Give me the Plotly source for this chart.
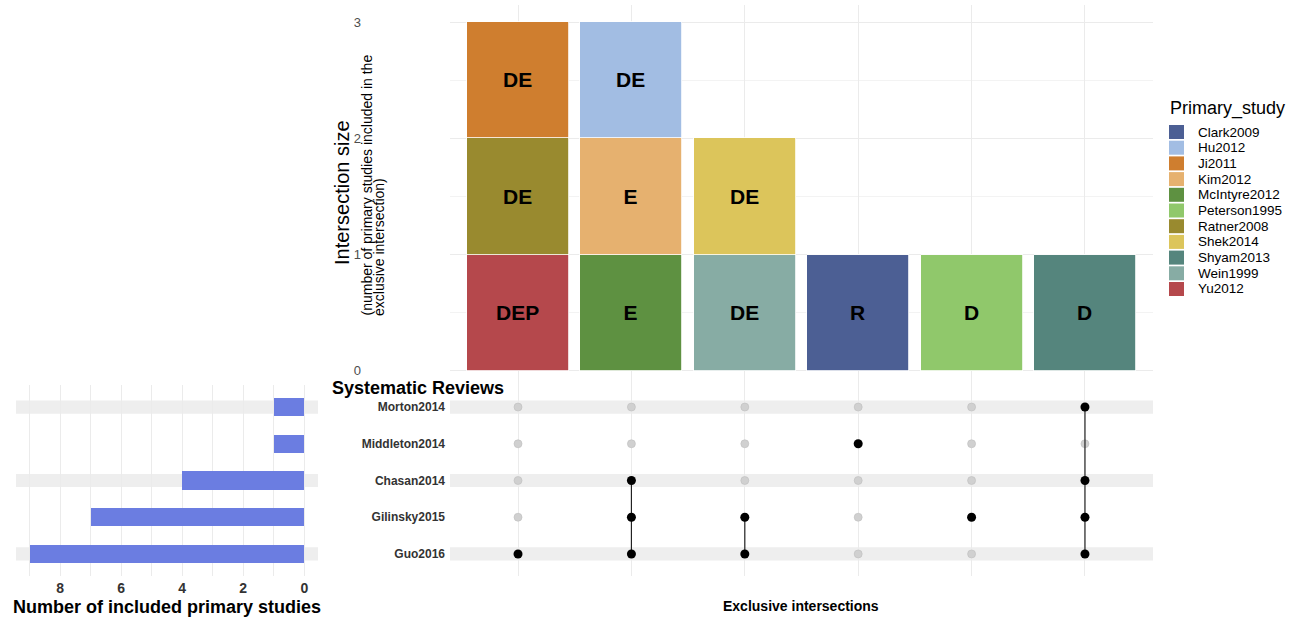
import plotly.graph_objects as go

W, H = 1297, 618
FONT = "Liberation Sans, Arial, sans-serif"

def fx(p):
    return p / W

def fy(p):
    return 1 - p / H

# ---------------- data ----------------
reviews = ["Guo2016", "Gilinsky2015", "Chasan2014", "Middleton2014", "Morton2014"]  # bottom -> top
review_totals = [9, 7, 4, 1, 1]

intersections = [
    "Guo2016",
    "Chasan2014&Gilinsky2015&Guo2016",
    "Gilinsky2015&Guo2016",
    "Middleton2014",
    "Gilinsky2015",
    "Chasan2014&Gilinsky2015&Guo2016&Morton2014",
]
intersection_members = [
    ["Guo2016"],
    ["Guo2016", "Gilinsky2015", "Chasan2014"],
    ["Guo2016", "Gilinsky2015"],
    ["Middleton2014"],
    ["Gilinsky2015"],
    ["Guo2016", "Gilinsky2015", "Chasan2014", "Morton2014"],
]

studies = ["Clark2009", "Hu2012", "Ji2011", "Kim2012", "McIntyre2012", "Peterson1995",
           "Ratner2008", "Shek2014", "Shyam2013", "Wein1999", "Yu2012"]
study_colors = ["#4c5f94", "#a2bde3", "#cf7e2f", "#e6b16f", "#5e9141", "#90c86b",
                "#998a2f", "#dcc55b", "#55857d", "#87aca4", "#b5484c"]
study_intersection = [intersections[3], intersections[1], intersections[0], intersections[1],
                      intersections[1], intersections[4], intersections[0], intersections[2],
                      intersections[5], intersections[2], intersections[0]]
study_outcome = ["R", "DE", "DE", "E", "E", "D", "DE", "DE", "D", "DE", "DEP"]
study_count = [1] * len(studies)
# stacking order (bottom first)
stack_order = ["Yu2012", "Ratner2008", "Ji2011", "McIntyre2012", "Kim2012", "Hu2012",
               "Wein1999", "Shek2014", "Clark2009", "Peterson1995", "Shyam2013"]

fig = go.Figure()

# ---------------- top stacked bars ----------------
for s in stack_order:
    i = studies.index(s)
    fig.add_trace(go.Bar(
        x=[study_intersection[i]], y=[study_count[i]], name=s,
        marker=dict(color=study_colors[i], line=dict(color="white", width=0.8)),
        width=0.9, text=[study_outcome[i]], textposition="inside",
        insidetextanchor="middle", textangle=0,
        textfont=dict(family=FONT, size=21, color="black", weight=700),
        showlegend=False, xaxis="x", yaxis="y", hoverinfo="name"))

# ---------------- matrix ----------------
gx, gy, bx, by = [], [], [], []
for inter, mem in zip(intersections, intersection_members):
    for r in reviews:
        if r in mem:
            bx.append(inter); by.append(r)
        else:
            gx.append(inter); gy.append(r)

fig.add_trace(go.Scatter(x=gx, y=gy, mode="markers", xaxis="x2", yaxis="y2",
                         marker=dict(size=8, color="#d0d0d0", line=dict(color="#bdbdbd", width=0.6)),
                         showlegend=False, hoverinfo="skip"))
for inter, mem in zip(intersections, intersection_members):
    if len(mem) > 1:
        fig.add_trace(go.Scatter(x=[inter] * len(mem), y=mem, mode="lines", xaxis="x2", yaxis="y2",
                                 line=dict(color="#222222", width=1.2),
                                 showlegend=False, hoverinfo="skip"))
fig.add_trace(go.Scatter(x=bx, y=by, mode="markers", xaxis="x2", yaxis="y2",
                         marker=dict(size=9, color="black"),
                         showlegend=False, hoverinfo="skip"))

# ---------------- left bars ----------------
fig.add_trace(go.Bar(x=review_totals, y=reviews, orientation="h", width=0.5,
                     marker=dict(color="#6b7de1", line=dict(width=0)),
                     xaxis="x3", yaxis="y3", showlegend=False))

# ---------------- layout ----------------
top_dom_x = [fx(450), fx(1153)]
mat_dom_y = [fy(576), fy(385)]
grid = "#ebebeb"

shapes = []
for k, r in enumerate(reviews):
    if k % 2 == 0:
        for xr, yr in (("x2 domain", "y2"), ("x3 domain", "y3")):
            shapes.append(dict(type="rect", xref=xr, yref=yr, x0=0, x1=1,
                               y0=k - 0.18, y1=k + 0.18, fillcolor="#eeeeee",
                               line=dict(width=0), layer="below"))

annotations = [
    dict(text="Systematic Reviews", x=fx(330), y=fy(388), xref="paper", yref="paper",
         xanchor="left", yanchor="middle", showarrow=False,
         font=dict(family=FONT, size=18, color="black", weight=700)),
    dict(text="Number of included primary studies", x=fx(167), y=fy(607), xref="paper", yref="paper",
         xanchor="center", yanchor="middle", showarrow=False,
         font=dict(family=FONT, size=18, color="black", weight=700)),
    dict(text="Exclusive intersections", x=fx(801), y=fy(606), xref="paper", yref="paper",
         xanchor="center", yanchor="middle", showarrow=False,
         font=dict(family=FONT, size=14, color="black", weight=700)),
    dict(text="Intersection size", x=fx(342), y=fy(193), xref="paper", yref="paper",
         xanchor="center", yanchor="middle", textangle=-90, showarrow=False,
         font=dict(family=FONT, size=20, color="black")),
    dict(text="(number of primary studies included in the", x=fx(366), y=fy(318), xref="paper", yref="paper",
         xanchor="center", yanchor="bottom", textangle=-90, showarrow=False,
         font=dict(family=FONT, size=14, color="black")),
    dict(text="exclusive intersection)", x=fx(379), y=fy(318), xref="paper", yref="paper",
         xanchor="center", yanchor="bottom", textangle=-90, showarrow=False,
         font=dict(family=FONT, size=14, color="black")),
    dict(text="Primary_study", x=fx(1168), y=fy(108), xref="paper", yref="paper",
         xanchor="left", yanchor="middle", showarrow=False,
         font=dict(family=FONT, size=18, color="black")),
]

# manual legend
for i, (s, c) in enumerate(zip(studies, study_colors)):
    yc = 132 + i * 15.7
    shapes.append(dict(type="rect", xref="paper", yref="paper",
                       x0=fx(1169), x1=fx(1184), y0=fy(yc + 7), y1=fy(yc - 7),
                       fillcolor=c, line=dict(width=0)))
    annotations.append(dict(text=s, x=fx(1196), y=fy(yc), xref="paper", yref="paper",
                            xanchor="left", yanchor="middle", showarrow=False,
                            font=dict(family=FONT, size=13.5, color="black")))

fig.update_layout(
    width=W, height=H, margin=dict(l=0, r=0, t=0, b=0),
    paper_bgcolor="white", plot_bgcolor="rgba(0,0,0,0)",
    barmode="stack", bargap=0, font=dict(family=FONT),
    xaxis=dict(domain=top_dom_x, type="category", categoryorder="array",
               categoryarray=intersections, range=[-0.6, 5.6], showticklabels=False,
               showgrid=True, gridcolor=grid, gridwidth=1, zeroline=False, ticks="",
               anchor="y", fixedrange=True),
    yaxis=dict(domain=[fy(388), fy(5)], range=[-0.15, 3.15], tickvals=[0, 1, 2, 3],
               showgrid=True, gridcolor=grid, gridwidth=1, zeroline=False, ticks="",
               minor=dict(tickvals=[0.5, 1.5, 2.5], showgrid=True, gridcolor="#f3f3f3"),
               tickfont=dict(family=FONT, size=13, color="#4d4d4d"),
               ticklabelstandoff=88, anchor="x"),
    xaxis2=dict(domain=top_dom_x, type="category", categoryorder="array",
                categoryarray=intersections, range=[-0.6, 5.6], showticklabels=False,
                showgrid=True, gridcolor=grid, gridwidth=1, zeroline=False, ticks="",
                anchor="y2"),
    yaxis2=dict(domain=mat_dom_y, type="category", categoryorder="array",
                categoryarray=reviews, range=[-0.6, 4.6], showgrid=False, zeroline=False,
                ticks="", tickfont=dict(family=FONT, size=12, color="#333333", weight=700),
                ticklabelstandoff=4, anchor="x2"),
    xaxis3=dict(domain=[fx(16), fx(318)], range=[9.45, -0.45], tickvals=[0, 2, 4, 6, 8],
                showgrid=True, gridcolor=grid, gridwidth=1, zeroline=False, ticks="",
                minor=dict(tickvals=[1, 3, 5, 7, 9], showgrid=True, gridcolor=grid),
                tickfont=dict(family=FONT, size=14, color="#333333", weight=700),
                ticklabelstandoff=2, anchor="y3"),
    yaxis3=dict(domain=mat_dom_y, type="category", categoryorder="array",
                categoryarray=reviews, range=[-0.6, 4.6], showgrid=False, zeroline=False,
                showticklabels=False, ticks="", anchor="x3"),
    shapes=shapes, annotations=annotations,
)

fig.write_html("out.html", config={"displayModeBar": False},
               post_script="document.body.style.margin='0px';document.body.style.padding='0px';")
